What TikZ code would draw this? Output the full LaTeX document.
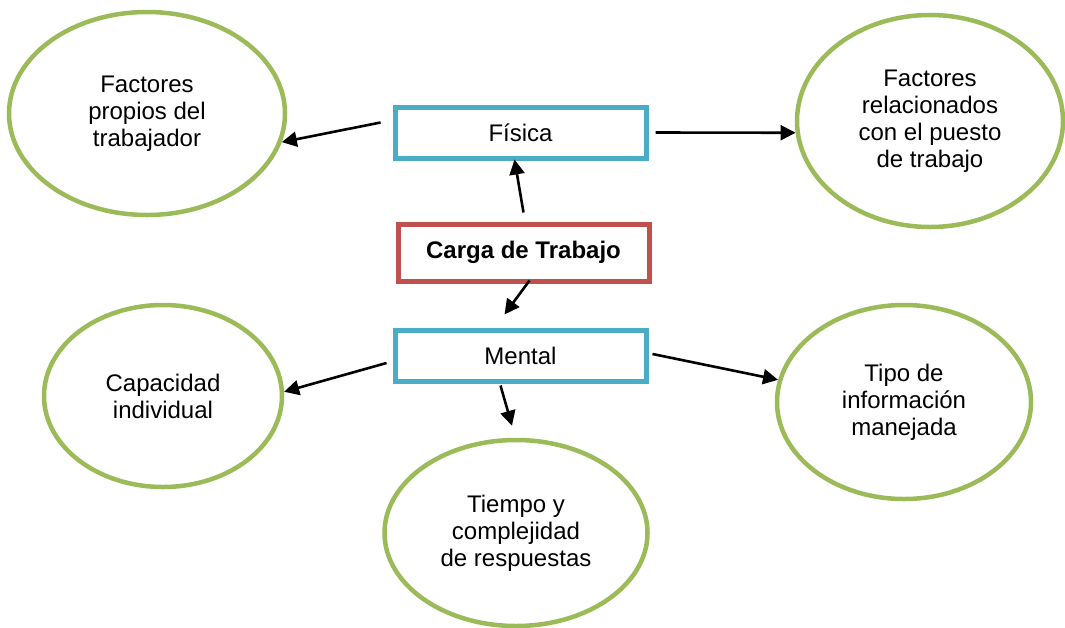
\documentclass[tikz,border=0pt]{standalone}
\usepackage{fontspec}
\setmainfont{Liberation Sans}
\usetikzlibrary{arrows.meta,shapes.geometric}
\definecolor{verde}{HTML}{9BBB59}
\definecolor{azul}{HTML}{4BACC6}
\definecolor{rojo}{HTML}{C0504D}
\begin{document}
\begin{tikzpicture}[x=0.5pt,y=-0.5pt,
		elipse/.style={ellipse,draw=verde,line width=2.25pt,align=center,inner sep=0pt},
		caja/.style={rectangle,draw=azul,line width=2.5pt,minimum width=125.5pt,minimum height=25.5pt},
		flecha/.style={line width=1.3pt,-{Triangle[length=7.5pt,width=7.5pt]}},
		font=\fontsize{12pt}{13.5pt}\selectfont]
		\useasboundingbox (0,0) rectangle (1065,627);
		\node[elipse,minimum width=138pt,minimum height=101.5pt](prop) at (147,113.5){Factores\\propios del\\trabajador};
		\node[elipse,minimum width=133pt,minimum height=106pt](puesto) at (930,121){Factores\\relacionados\\con el puesto\\de trabajo};
		\node[elipse,minimum width=119pt,minimum height=91pt](capac) at (163,396){Capacidad\\individual};
		\node[elipse,minimum width=131.5pt,minimum height=93pt](resp) at (516,533){Tiempo y\\complejidad\\de respuestas};
		\node[elipse,minimum width=127pt,minimum height=97pt](info) at (904,402){Tipo de\\informaci\'on\\manejada};
		\node[caja](fisica) at (520.5,132.5){F\'isica};
		\node[caja,draw=rojo,minimum height=28.5pt,font=\fontsize{12pt}{13.5pt}\selectfont\bfseries](carga) at (523.5,252.5){Carga de Trabajo};
		\node[caja](mental) at (520.5,355.5){Mental};
		\draw[flecha] ([shift={(-12,-10)}]fisica.west)--(prop.-12);
		\draw[flecha] ([shift={(7,0)}]fisica.east)--(puesto.185);
		\draw[flecha] ([shift={(0,-9)}]carga.north)--([shift={(-6,-1)}]fisica.south);
		\draw[flecha] ([shift={(6,-3)}]carga.south)--([shift={(-16,-13)}]mental.north);
		\draw[flecha] ([shift={(-6,7.5)}]mental.west)--(capac.2);
		\draw[flecha] ([shift={(-20,2)}]mental.south)--([shift={(-4,-12)}]resp.north);
		\draw[flecha] ([shift={(4,-1.5)}]mental.east)--(info.170);
	\end{tikzpicture}
\end{document}
